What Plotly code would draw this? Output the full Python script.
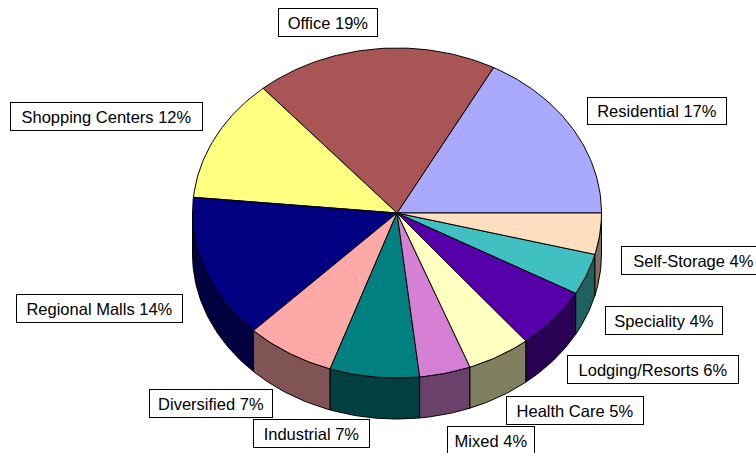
import numpy as np
import plotly.graph_objects as go

# ---- data (counter-clockwise from 3 o'clock) ----
categories = ["Residential", "Office", "Shopping Centers", "Regional Malls",
              "Diversified", "Industrial", "Mixed", "Health Care",
              "Lodging/Resorts", "Speciality", "Self-Storage"]
values = [17, 19, 12, 14, 7, 7, 4, 5, 6, 4, 4]

# ---- styles ----
top_colors = ["#A9A9FF", "#AA5555", "#FFFF80", "#000080", "#FFA8A8", "#008080",
              "#D580D5", "#FFFFC0", "#5500A8", "#40C0C0", "#FFDFBF"]
side_colors = ["#555580", "#552A2A", "#808040", "#000040", "#805454", "#004040",
               "#6B406B", "#808060", "#2A0054", "#206060", "#80705F"]

# label box geometry in pixels: (left, top, right, bottom)
label_boxes = {
    "Residential": (587, 97, 726, 124),
    "Office": (278, 8, 377, 36),
    "Shopping Centers": (10, 102, 202, 130),
    "Regional Malls": (16, 294, 182, 322),
    "Diversified": (149, 389, 272, 417),
    "Industrial": (253, 419, 369, 447),
    "Mixed": (447, 426, 534, 454),
    "Health Care": (506, 396, 643, 424),
    "Lodging/Resorts": (567, 355, 738, 383),
    "Speciality": (605, 306, 722, 334),
    "Self-Storage": (621, 246, 765, 274),
}

W, H = 756, 453
cx, cy, rx, ry, depth = 397, 213, 204.5, 165, 41

total = sum(values)
fracs = np.array(values) / total
edges = np.concatenate([[0], np.cumsum(fracs)]) * 2 * np.pi

fig = go.Figure()

def arc(a0, a1, n=None):
    if n is None:
        n = max(4, int(abs(a1 - a0) / (np.pi / 180)) + 2)
    t = np.linspace(a0, a1, n)
    return cx + rx * np.cos(t), cy - ry * np.sin(t)

# side walls (visible for angles in [pi, 2pi])
for i in range(len(values)):
    a0, a1 = edges[i], edges[i + 1]
    s0, s1 = max(a0, np.pi), min(a1, 2 * np.pi)
    if s1 <= s0:
        continue
    xs, ys = arc(s0, s1)
    px = np.concatenate([xs, xs[::-1], xs[:1]])
    py = np.concatenate([ys, ys[::-1] + depth, ys[:1]])
    fig.add_trace(go.Scatter(x=px, y=py, mode="lines", fill="toself",
                             fillcolor=side_colors[i],
                             line=dict(color="black", width=1),
                             hoverinfo="skip", showlegend=False))

# top faces
for i in range(len(values)):
    a0, a1 = edges[i], edges[i + 1]
    xs, ys = arc(a0, a1)
    px = np.concatenate([[cx], xs, [cx]])
    py = np.concatenate([[cy], ys, [cy]])
    fig.add_trace(go.Scatter(x=px, y=py, mode="lines", fill="toself",
                             fillcolor=top_colors[i],
                             line=dict(color="black", width=1),
                             hoverinfo="skip", showlegend=False))

# labels
for cat, val in zip(categories, values):
    l, t, r, b = label_boxes[cat]
    fig.add_annotation(x=(l + r) / 2, y=(t + b) / 2, xref="x", yref="y",
                       text=f"{cat} {round(val / total * 100)}%",
                       showarrow=False, width=r - l - 1, height=b - t - 1,
                       align="center", valign="middle",
                       font=dict(family="Liberation Sans, Arial", size=16.5,
                                 color="black"),
                       bgcolor="white", bordercolor="black", borderwidth=1,
                       borderpad=0)

fig.update_xaxes(range=[0, W], visible=False, fixedrange=True)
fig.update_yaxes(range=[H, 0], visible=False, fixedrange=True)
fig.update_layout(width=W, height=H, margin=dict(l=0, r=0, t=0, b=0),
                  paper_bgcolor="white", plot_bgcolor="white",
                  showlegend=False)

fig.write_html("out.html", config={"displayModeBar": False},
               post_script="document.body.style.margin='0';"
                           "document.body.style.overflow='hidden';")
